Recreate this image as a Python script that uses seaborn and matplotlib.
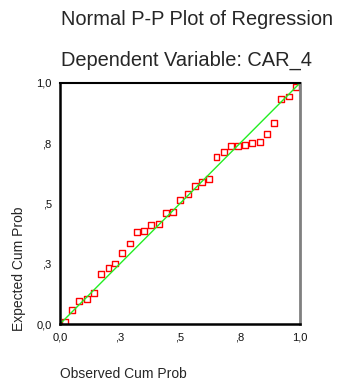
import numpy as np
import pandas as pd
import matplotlib
matplotlib.use("Agg")
import matplotlib.pyplot as plt
import seaborn as sns

# observed / expected cumulative probabilities
observed = [0.020, 0.050, 0.081, 0.111, 0.142, 0.171, 0.202, 0.231, 0.260, 0.291,
            0.321, 0.350, 0.381, 0.412, 0.441, 0.471, 0.501, 0.532, 0.562, 0.592,
            0.622, 0.652, 0.682, 0.711, 0.741, 0.772, 0.801, 0.832, 0.861, 0.892,
            0.922, 0.953, 0.982]
expected = [0.007, 0.058, 0.097, 0.102, 0.127, 0.209, 0.231, 0.251, 0.295, 0.334,
            0.382, 0.386, 0.412, 0.416, 0.459, 0.465, 0.515, 0.541, 0.574, 0.588,
            0.602, 0.694, 0.712, 0.739, 0.739, 0.743, 0.752, 0.756, 0.790, 0.834,
            0.932, 0.944, 0.983]
diag = [0.0, 1.0]
tick_pos = [0.0, 0.25, 0.5, 0.75, 1.0]
tick_labels = ["0,0", ",3", ",5", ",8", "1,0"]

sns.set_style("white")
plt.rcParams['font.family'] = ['Liberation Sans', 'DejaVu Sans']

fig = plt.figure(figsize=(3.41, 3.83), dpi=100)
ax = fig.add_axes([60 / 341, 1 - 324 / 383, 240 / 341, 241 / 383])

df = pd.DataFrame({"obs": observed, "exp": expected})
line_df = pd.DataFrame({"x": diag, "y": diag})

sns.lineplot(data=line_df, x="x", y="y", color="#22ee22", lw=1, ax=ax)
sns.scatterplot(data=df, x="obs", y="exp", marker="s", s=18,
                facecolors="none", edgecolor="#ff0000", linewidth=1, ax=ax)

ax.set_xlim(0, 1)
ax.set_ylim(0, 1)
ax.set_xticks(tick_pos)
ax.set_xticklabels(tick_labels)
ax.set_yticks(tick_pos)
ax.set_yticklabels(tick_labels)
ax.tick_params(direction="out", length=2.5, width=2, labelsize=8,
               colors="#111111", pad=3.5)
ax.set_xlabel("")
ax.set_ylabel("")

for s in ["left", "bottom"]:
    ax.spines[s].set_color("black")
    ax.spines[s].set_linewidth(1.8)
ax.spines["top"].set_color("black")
ax.spines["top"].set_linewidth(1.5)
ax.spines["right"].set_color("#808080")
ax.spines["right"].set_linewidth(2)

fig.text(61 / 341, 1 - 25 / 383, "Normal P-P Plot of Regression",
         fontsize=14.4, va="baseline", ha="left")
fig.text(61 / 341, 1 - 66 / 383, "Dependent Variable: CAR_4",
         fontsize=14.4, va="baseline", ha="left")
fig.text(60 / 341, 1 - 378 / 383, "Observed Cum Prob",
         fontsize=10, va="baseline", ha="left")
fig.text(19 / 341, 1 - 269 / 383, "Expected Cum Prob",
         fontsize=10, va="center", ha="center", rotation=90)

fig.savefig("out.png", dpi=100)
